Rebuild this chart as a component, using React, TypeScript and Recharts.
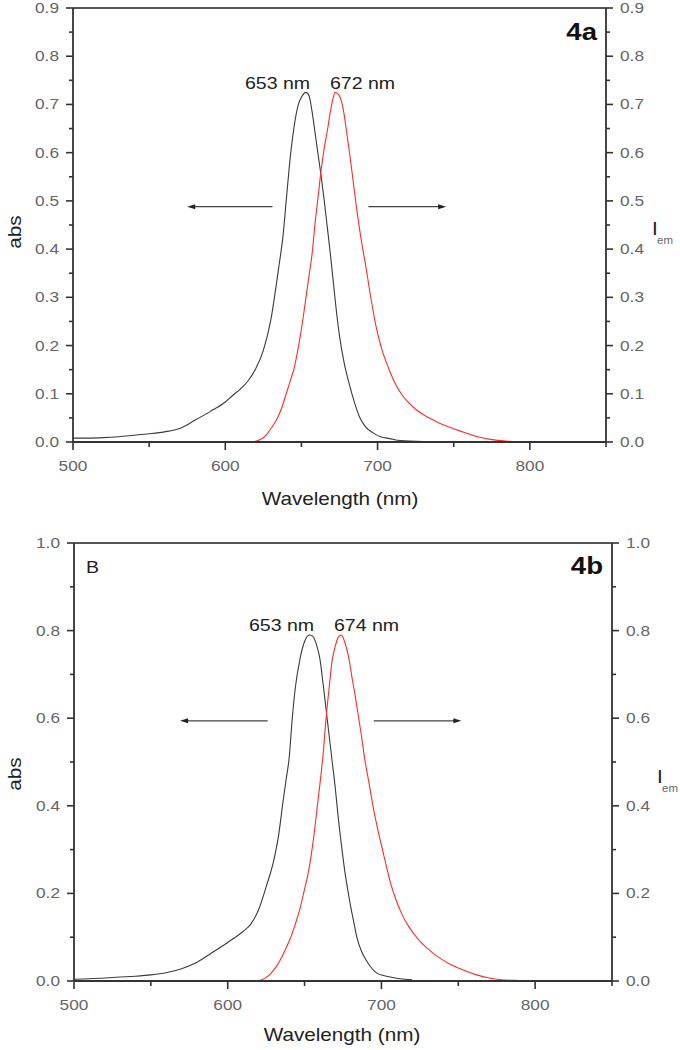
import { ComposedChart, Line, XAxis, YAxis, ReferenceLine } from 'recharts'

// wavelength (nm), value pairs
const absA: [number, number][] = [
  [500, 0.008], [510, 0.008], [520, 0.009], [530, 0.011], [540, 0.014], [550, 0.017],
  [560, 0.021], [570, 0.028], [580, 0.045], [590, 0.063], [600, 0.083], [605, 0.097],
  [610, 0.11], [615, 0.127], [620, 0.152], [625, 0.19], [630, 0.255], [635, 0.36],
  [638, 0.43], [640, 0.5], [643, 0.6], [645, 0.65], [648, 0.7], [650, 0.715],
  [653, 0.725], [655, 0.718], [657, 0.685], [659, 0.64], [661, 0.595], [663, 0.55],
  [665, 0.5], [667, 0.445], [669, 0.39], [671, 0.33], [673, 0.27], [675, 0.22],
  [678, 0.165], [681, 0.125], [685, 0.08], [688, 0.053], [692, 0.032], [697, 0.019],
  [702, 0.011], [708, 0.007], [715, 0.003], [730, 0.001],
]

const emA: [number, number][] = [
  [600, 0], [610, 0], [619, 0.001], [623, 0.005], [627, 0.015], [630, 0.028],
  [634, 0.048], [637, 0.07], [640, 0.1], [643, 0.13], [645, 0.15], [647, 0.18],
  [649, 0.215], [651, 0.255], [653, 0.3], [655, 0.345], [657, 0.39], [659, 0.455],
  [661, 0.51], [663, 0.565], [665, 0.61], [667, 0.645], [669, 0.685], [671, 0.715],
  [672, 0.725], [674, 0.722], [676, 0.71], [678, 0.68], [680, 0.635], [682, 0.59],
  [684, 0.54], [686, 0.49], [688, 0.445], [690, 0.405], [692, 0.37], [695, 0.31],
  [699, 0.24], [703, 0.19], [707, 0.155], [711, 0.125], [716, 0.098], [720, 0.083],
  [725, 0.068], [730, 0.057], [735, 0.048], [740, 0.04], [747, 0.031], [755, 0.022],
  [767, 0.01], [775, 0.005], [784, 0.002], [800, 0], [850, 0],
]

const absB: [number, number][] = [
  [500, 0.004], [510, 0.005], [520, 0.007], [530, 0.009], [540, 0.011], [550, 0.014],
  [560, 0.019], [570, 0.028], [580, 0.043], [590, 0.065], [600, 0.088], [605, 0.1],
  [610, 0.113], [615, 0.13], [620, 0.162], [625, 0.215], [630, 0.276], [633, 0.33],
  [636, 0.41], [638, 0.46], [640, 0.51], [642, 0.6], [644, 0.67], [647, 0.735],
  [650, 0.775], [653, 0.79], [655, 0.788], [658, 0.765], [660, 0.735], [662, 0.68],
  [664, 0.62], [666, 0.56], [668, 0.5], [670, 0.44], [672, 0.37], [674, 0.31],
  [676, 0.255], [678, 0.21], [680, 0.17], [682, 0.135], [684, 0.1], [687, 0.068],
  [690, 0.048], [694, 0.028], [697, 0.018], [702, 0.012], [706, 0.009], [712, 0.005],
  [720, 0.003],
]

const emB: [number, number][] = [
  [600, 0], [610, 0], [620, 0.001], [624, 0.006], [628, 0.017], [631, 0.03],
  [634, 0.047], [637, 0.068], [641, 0.1], [644, 0.13], [647, 0.165], [650, 0.21],
  [652, 0.24], [654, 0.28], [656, 0.33], [658, 0.39], [660, 0.45], [662, 0.515],
  [664, 0.6], [666, 0.67], [668, 0.733], [670, 0.765], [672, 0.785], [674, 0.79],
  [676, 0.775], [679, 0.733], [681, 0.69], [683, 0.65], [685, 0.605], [687, 0.56],
  [689, 0.51], [692, 0.45], [695, 0.39], [698, 0.34], [700, 0.31], [703, 0.265],
  [706, 0.223], [709, 0.19], [713, 0.155], [718, 0.123], [724, 0.095], [730, 0.074],
  [739, 0.05], [746, 0.036], [754, 0.024], [762, 0.014], [770, 0.007], [778, 0.003],
  [790, 0.001], [800, 0],
]

const nmTicks = [500, 550, 600, 650, 700, 750, 800, 850]
const ticksA = [0, 0.05, 0.1, 0.15, 0.2, 0.25, 0.3, 0.35, 0.4, 0.45, 0.5, 0.55, 0.6, 0.65, 0.7, 0.75, 0.8, 0.85, 0.9]
const ticksB = [0, 0.1, 0.2, 0.3, 0.4, 0.5, 0.6, 0.7, 0.8, 0.9, 1.0]

// arrows: [from nm, to nm, level]
const arrowsA: [number, number, number][] = [[631, 575, 0.488], [694, 745, 0.488]]
const arrowsB: [number, number, number][] = [[626, 569, 0.594], [695, 752, 0.594]]

const toPts = (arr: [number, number][]) => arr.map(([nm, v]) => ({ nm, v }))

const FONT = '"Liberation Sans", Arial, sans-serif'
const SX = 1.15
const AXIS = '#333'
const TICK_TXT = '#666'

function Txt({ x, y, size, anchor = 'start', weight = 400, fill = '#222', rotate = 0, children }: any) {
  return (
    <text
      transform={`translate(${x},${y}) rotate(${rotate}) scale(${SX},1)`}
      fontSize={size}
      fontFamily={FONT}
      fontWeight={weight}
      textAnchor={anchor}
      fill={fill}
    >
      {children}
    </text>
  )
}

const isMajor = (v: number, step: number) => Math.abs(v / step - Math.round(v / step)) < 1e-6

const leftTick = (step: number) => (p: any) => {
  const { x, y } = p
  const v = p.payload.value
  const major = isMajor(v, step)
  return (
    <g>
      <line x1={x} x2={x - (major ? 7 : 4)} y1={y} y2={y} stroke={AXIS} strokeWidth={1.6} />
      {major && <Txt x={x - 14} y={y + 5} size={15} anchor="end" fill={TICK_TXT}>{v.toFixed(1)}</Txt>}
    </g>
  )
}

const rightTick = (step: number) => (p: any) => {
  const { x, y } = p
  const v = p.payload.value
  const major = isMajor(v, step)
  return (
    <g>
      <line x1={x} x2={x + (major ? 7 : 4)} y1={y} y2={y} stroke={AXIS} strokeWidth={1.6} />
      {major && <Txt x={x + 14} y={y + 5} size={15} fill={TICK_TXT}>{v.toFixed(1)}</Txt>}
    </g>
  )
}

const bottomTick = (p: any) => {
  const { x, y } = p
  const v = p.payload.value
  const major = v % 100 === 0
  return (
    <g>
      <line x1={x} x2={x} y1={y} y2={y + (major ? 8 : 5)} stroke={AXIS} strokeWidth={1.6} />
      {major && v < 850 && <Txt x={x} y={y + 29} size={15} anchor="middle" fill={TICK_TXT}>{v}</Txt>}
    </g>
  )
}

const arrowShape = (p: any) => {
  const { x1, y1, x2, y2 } = p
  const dir = Math.sign(x2 - x1)
  return (
    <g>
      <line x1={x1} y1={y1} x2={x2 - dir * 5} y2={y2} stroke="#444" strokeWidth={1.2} />
      <polygon points={`${x2},${y2} ${x2 - dir * 8},${y2 - 2.5} ${x2 - dir * 8},${y2 + 2.5}`} fill="#222" />
    </g>
  )
}

function Panel({ abs, em, yMax, ticks, step, arrows, height, margin }: any) {
  return (
    <ComposedChart width={680} height={height} margin={margin}>
      <XAxis
        xAxisId="b"
        type="number"
        dataKey="nm"
        domain={[500, 850]}
        ticks={nmTicks}
        interval={0}
        height={40}
        tickSize={0}
        tickMargin={0}
        tickLine={false}
        tick={bottomTick}
        axisLine={{ stroke: AXIS, strokeWidth: 1.8 }}
        allowDataOverflow
      />
      <YAxis
        yAxisId="L"
        domain={[0, yMax]}
        ticks={ticks}
        interval={0}
        width={60}
        tickSize={0}
        tickMargin={0}
        tickLine={false}
        tick={leftTick(step)}
        axisLine={{ stroke: AXIS, strokeWidth: 1.8 }}
        allowDataOverflow
      />
      <YAxis
        yAxisId="R"
        orientation="right"
        domain={[0, yMax]}
        ticks={ticks}
        interval={0}
        width={60}
        tickSize={0}
        tickMargin={0}
        tickLine={false}
        tick={rightTick(step)}
        axisLine={{ stroke: AXIS, strokeWidth: 1.8 }}
        allowDataOverflow
      />
      <ReferenceLine xAxisId="b" yAxisId="L" y={yMax} stroke="#555" strokeWidth={2} />
      {arrows.map(([a, b, lv]: [number, number, number], i: number) => (
        <ReferenceLine
          key={i}
          xAxisId="b"
          yAxisId="L"
          segment={[{ x: a, y: lv }, { x: b, y: lv }]}
          shape={arrowShape}
        />
      ))}
      <Line
        xAxisId="b"
        yAxisId="L"
        data={toPts(abs)}
        dataKey="v"
        type="monotone"
        stroke="#3a3a3a"
        strokeWidth={1.1}
        dot={false}
        activeDot={false}
        isAnimationActive={false}
      />
      <Line
        xAxisId="b"
        yAxisId="R"
        data={toPts(em)}
        dataKey="v"
        type="monotone"
        stroke="#ff2b2b"
        strokeWidth={1.1}
        dot={false}
        activeDot={false}
        isAnimationActive={false}
      />
    </ComposedChart>
  )
}

export default function App() {
  return (
    <div style={{ position: 'absolute', left: 0, top: 0, width: 680, height: 1050, background: '#fff' }}>
      <div style={{ position: 'absolute', left: 0, top: 0 }}>
        <Panel
          abs={absA}
          em={emA}
          yMax={0.9}
          ticks={ticksA}
          step={0.1}
          arrows={arrowsA}
          height={520}
          margin={{ top: 8, right: 14, bottom: 38, left: 13 }}
        />
      </div>
      <div style={{ position: 'absolute', left: 0, top: 520 }}>
        <Panel
          abs={absB}
          em={emB}
          yMax={1.0}
          ticks={ticksB}
          step={0.2}
          arrows={arrowsB}
          height={530}
          margin={{ top: 23, right: 8, bottom: 29, left: 14 }}
        />
      </div>
      <svg
        width={680}
        height={1050}
        style={{ position: 'absolute', left: 0, top: 0, pointerEvents: 'none' }}
      >
        {/* panel a */}
        <Txt x={21} y={232} size={18} anchor="middle" rotate={-90}>abs</Txt>
        <Txt x={340} y={505} size={18} anchor="middle">Wavelength (nm)</Txt>
        <Txt x={652} y={235} size={18}>I</Txt>
        <Txt x={657} y={244} size={10} fill="#666">em</Txt>
        <Txt x={597} y={40} size={24} weight={700} anchor="end" fill="#111">4a</Txt>
        <Txt x={245} y={89} size={17}>653 nm</Txt>
        <Txt x={330} y={89} size={17}>672 nm</Txt>
        {/* panel b */}
        <Txt x={21} y={774} size={18} anchor="middle" rotate={-90}>abs</Txt>
        <Txt x={342} y={1041} size={18} anchor="middle">Wavelength (nm)</Txt>
        <Txt x={657} y={783} size={18}>I</Txt>
        <Txt x={662} y={792} size={10} fill="#666">em</Txt>
        <Txt x={603} y={574} size={24} weight={700} anchor="end" fill="#111">4b</Txt>
        <Txt x={86} y={573} size={17}>B</Txt>
        <Txt x={249} y={631} size={17}>653 nm</Txt>
        <Txt x={334} y={631} size={17}>674 nm</Txt>
      </svg>
    </div>
  )
}
